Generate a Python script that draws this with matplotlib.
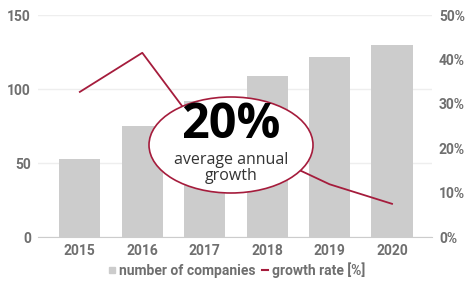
import matplotlib
matplotlib.use("Agg")
import matplotlib.pyplot as plt
from matplotlib.patches import Ellipse
from matplotlib.lines import Line2D

years = ["2015", "2016", "2017", "2018", "2019", "2020"]
companies = [53, 75, 92, 109, 122, 130]
growth = [32.7, 41.5, 22.7, 18.5, 11.9, 7.5]
left_ticks = [0, 50, 100, 150]
right_ticks = [0, 10, 20, 30, 40, 50]

BAR = "#cccccc"
RED = "#a51c3c"
TXT = "#6f6f6f"

plt.rcParams['font.family'] = ['Roboto', 'DejaVu Sans']

fig = plt.figure(figsize=(4.65, 2.84), dpi=100)
ax = fig.add_axes([38 / 465, 0.165, (432 - 38) / 465, 0.782])
x = list(range(len(years)))
ax.bar(x, companies, width=0.66, color=BAR, zorder=2)
ax.set_ylim(0, 150)
ax.set_xlim(-0.67, 5.64)
ax.set_yticks(left_ticks)
ax.set_xticks(x)
ax.set_xticklabels(years)
ax.grid(axis='y', color='#eeeeee', lw=1, zorder=0)
for s in ['top', 'right', 'left']:
    ax.spines[s].set_visible(False)
ax.spines['bottom'].set_color('#cccccc')
ax.tick_params(length=0, colors=TXT, labelsize=10, pad=5)
for lab in ax.get_xticklabels() + ax.get_yticklabels():
    lab.set_fontweight('bold')

ax2 = ax.twinx()
ax2.plot(x, growth, color=RED, lw=1.3, zorder=3)
ax2.set_ylim(0, 50)
ax2.set_yticks(right_ticks)
ax2.set_yticklabels([f"{t}%" for t in right_ticks])
for s in ['top', 'right', 'left', 'bottom']:
    ax2.spines[s].set_visible(False)
ax2.tick_params(length=0, colors=TXT, labelsize=10, pad=5)
for lab in ax2.get_yticklabels():
    lab.set_fontweight('bold')

# callout ellipse
ell = Ellipse((231 / 465, 1 - 145 / 284), 164 / 465, 96 / 284,
              transform=fig.transFigure, facecolor='white', edgecolor=RED,
              lw=1.2, zorder=10)
fig.patches.append(ell)
fig.text(231 / 465, 1 - 125 / 284, "20%", ha='center', va='center',
         fontsize=35, fontweight='bold', family=['Open Sans', 'DejaVu Sans'],
         color='#000000', zorder=11)
fig.text(231 / 465, 1 - 168 / 284, "average annual\ngrowth", ha='center',
         va='center', fontsize=11.5, family=['Open Sans', 'DejaVu Sans'],
         color='#333333', linespacing=0.95, zorder=11)

handles = [Line2D([], [], marker='s', ls='none', color=BAR, markersize=4),
           Line2D([], [], color=RED, lw=1.5)]
leg = fig.legend(handles, ["number of companies", "growth rate [%]"],
                 loc='center', bbox_to_anchor=(237 / 465, 1 - 270 / 284), ncol=2,
                 frameon=False, fontsize=10, handlelength=0.45,
                 handletextpad=0.25, columnspacing=0.5, borderpad=0)
for t in leg.get_texts():
    t.set_color(TXT)
    t.set_fontweight('bold')

fig.savefig("out.png", dpi=100)
